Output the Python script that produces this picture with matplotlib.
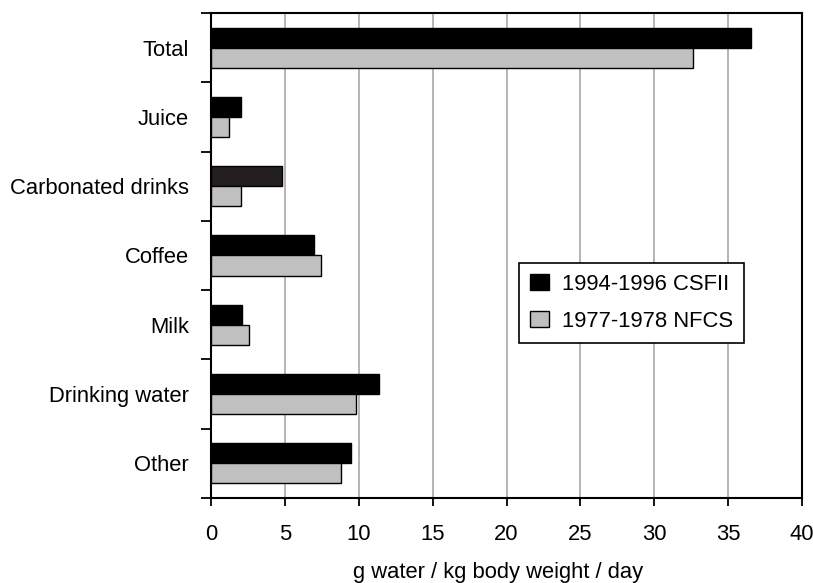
import numpy as np
import matplotlib.pyplot as plt
from matplotlib.ticker import MultipleLocator, FixedLocator, NullFormatter

plt.rcParams['font.family'] = ['Liberation Sans', 'DejaVu Sans']

categories = ['Total', 'Juice', 'Carbonated drinks', 'Coffee', 'Milk',
              'Drinking water', 'Other']
csfii_1994 = [36.55, 2.05, 4.8, 7.0, 2.07, 11.38, 9.5]
nfcs_1977 = [32.65, 1.25, 2.05, 7.47, 2.54, 9.82, 8.8]
series_names = ['1994-1996 CSFII', '1977-1978 NFCS']

fs = 15.8
fig = plt.figure(figsize=(8.13, 5.83), dpi=100)
ax = fig.add_axes([211 / 813, 1 - 498 / 583, 591 / 813, 485 / 583])

y = np.arange(len(categories))
h = 0.29
black_cols = ['black'] * len(categories)
black_cols[2] = '#231f20'
ax.barh(y - h / 2, csfii_1994, height=h, color=black_cols, edgecolor='black',
        linewidth=1.0, label=series_names[0], zorder=3)
ax.barh(y + h / 2, nfcs_1977, height=h, color='#c0c0c0', edgecolor='black',
        linewidth=1.0, label=series_names[1], zorder=3)

ax.set_xlim(0, 40)
ax.set_ylim(len(categories) - 0.5, -0.5)
ax.xaxis.set_major_locator(MultipleLocator(5))
ax.grid(axis='x', color='#a0a0a0', linewidth=1.1, zorder=0)

# category labels at centres, ticks at the boundaries
ax.set_yticks(y)
ax.set_yticklabels(categories, fontsize=fs)
ax.yaxis.set_minor_locator(FixedLocator(np.arange(len(categories) + 1) - 0.5))
ax.yaxis.set_minor_formatter(NullFormatter())
ax.tick_params(axis='y', which='major', length=0, pad=16)
ax.tick_params(axis='y', which='minor', length=7, width=1.3, direction='out')
ax.tick_params(axis='x', length=6, width=1.3, direction='out', labelsize=fs, pad=13)

for s in ax.spines.values():
    s.set_linewidth(1.5)
    s.set_color('black')

ax.set_xlabel('g water / kg body weight / day', fontsize=fs)
ax.xaxis.set_label_coords(0.486, -0.131)

leg = ax.legend(loc='upper left', bbox_to_anchor=(0.521, 0.4845), borderaxespad=0,
                fontsize=fs, fancybox=False, framealpha=1, edgecolor='black',
                handlelength=0.85, handleheight=0.75, handletextpad=0.6,
                labelspacing=0.72, borderpad=0.5)
leg.get_frame().set_linewidth(1.2)

fig.savefig('out.png', dpi=100)
